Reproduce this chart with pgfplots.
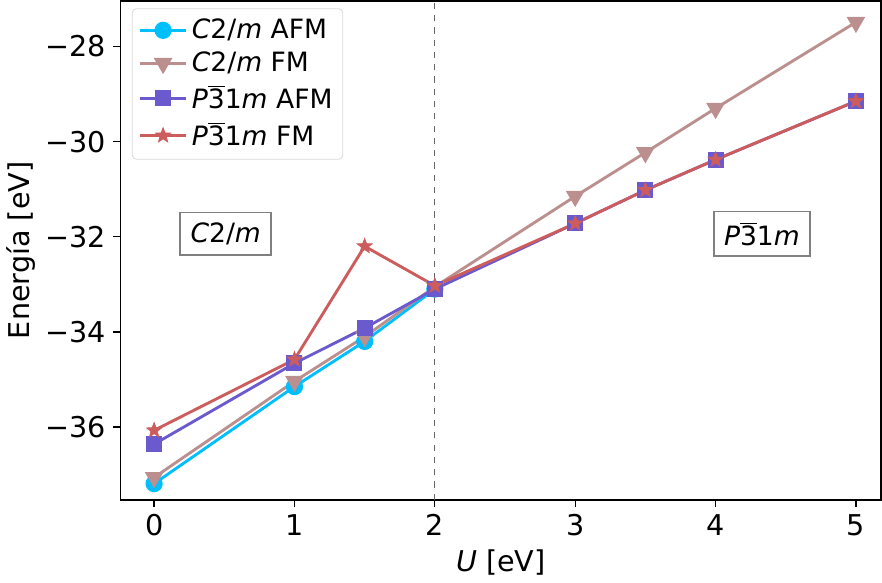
\documentclass[border=0pt]{standalone}
\usepackage{pgfplots}
\pgfplotsset{compat=1.18}
\usepackage{fontspec}
\setmainfont{DejaVu Sans}
\definecolor{afmC}{RGB}{0,191,255}
\definecolor{fmC}{RGB}{188,143,143}
\definecolor{afmP}{RGB}{106,90,205}
\definecolor{fmP}{RGB}{205,92,92}
\newcommand{\Ctwo}{\textit{C}2/\textit{m}}
\newcommand{\Pbar}{\textit{P}$\overline{\mbox{3}}$1\textit{m}}
% filled five-pointed star like matplotlib's '*'
\pgfdeclareplotmark{fstar}{%
  \pgfpathmoveto{\pgfqpointpolar{90}{\pgfplotmarksize}}%
  \pgfpathlineto{\pgfqpointpolar{126}{0.42\pgfplotmarksize}}%
  \pgfpathlineto{\pgfqpointpolar{162}{\pgfplotmarksize}}%
  \pgfpathlineto{\pgfqpointpolar{198}{0.42\pgfplotmarksize}}%
  \pgfpathlineto{\pgfqpointpolar{234}{\pgfplotmarksize}}%
  \pgfpathlineto{\pgfqpointpolar{270}{0.42\pgfplotmarksize}}%
  \pgfpathlineto{\pgfqpointpolar{306}{\pgfplotmarksize}}%
  \pgfpathlineto{\pgfqpointpolar{342}{0.42\pgfplotmarksize}}%
  \pgfpathlineto{\pgfqpointpolar{18}{\pgfplotmarksize}}%
  \pgfpathlineto{\pgfqpointpolar{54}{0.42\pgfplotmarksize}}%
  \pgfpathclose
  \pgfusepathqfillstroke}
\begin{document}
\begin{tikzpicture}
\begin{axis}[
    scale only axis,
    width=372pt, height=244pt,
    xmin=-0.24, xmax=5.18,
    ymin=-37.53, ymax=-27.04,
    xtick={0,1,2,3,4,5},
    ytick={-36,-34,-32,-30,-28},
    yticklabels={−36,−34,−32,−30,−28},
    /pgf/number format/assume math mode=true,
    tick align=outside,
    major tick length=3.5pt,
    tick style={black, line width=0.6pt},
    axis line style={line width=0.8pt},
    xtick pos=bottom, ytick pos=left,
    ticklabel style={font=\fontsize{14}{16}\selectfont},
    xlabel={\textit{U} [eV]},
    ylabel={Energía [eV]},
    ylabel style={yshift=-2pt},
    label style={font=\fontsize{14}{16}\selectfont},
    legend cell align=left,
    legend style={draw=black!15, rounded corners=2pt, font=\fontsize{13}{15.5}\selectfont,
        at={(0.015,0.985)}, anchor=north west, row sep=1pt, inner sep=3pt},
    legend image code/.code={%
        \draw[mark repeat=2,mark phase=2,#1] plot coordinates {(0cm,0cm) (0.4cm,0cm) (0.8cm,0cm)};},
]
\draw[black!60, dashed, line width=0.4pt] (axis cs:2,-37.53) -- (axis cs:2,-27.04);
\addplot[color=afmC, line width=1.4pt, mark=*, mark size=3.5pt] coordinates {
    (0,-37.19) (1,-35.15) (1.5,-34.2) (2,-33.1)
};
\addlegendentry{\Ctwo{} AFM}
\addplot[color=fmC, line width=1.4pt, mark=triangle*, mark size=3.9pt, mark options={rotate=180}] coordinates {
    (0,-37.06) (1,-35.04) (1.5,-34.1) (2,-33.05) (3,-31.15) (3.5,-30.23) (4,-29.3) (5,-27.49)
};
\addlegendentry{\Ctwo{} FM}
\addplot[color=afmP, line width=1.4pt, mark=square*, mark size=3.2pt] coordinates {
    (0,-36.36) (1,-34.66) (1.5,-33.92) (2,-33.1) (3,-31.72) (3.5,-31.02) (4,-30.38) (5,-29.15)
};
\addlegendentry{\Pbar{} AFM}
\addplot[color=fmP, line width=1.4pt, mark=fstar, mark size=3.8pt, mark options={fill=fmP, line width=0.4pt}] coordinates {
    (0,-36.07) (1,-34.58) (1.5,-32.2) (2,-33.03) (3,-31.72) (3.5,-31.02) (4,-30.38) (5,-29.15)
};
\addlegendentry{\Pbar{} FM}
\node[draw=black!50, fill=white, line width=0.8pt, inner sep=5pt, font=\fontsize{13}{15.5}\selectfont] at (axis cs:0.51,-31.94) {\Ctwo};
\node[draw=black!50, fill=white, line width=0.8pt, inner sep=5pt, font=\fontsize{13}{15.5}\selectfont] at (axis cs:4.33,-31.94) {\Pbar};
\end{axis}
\end{tikzpicture}
\end{document}
